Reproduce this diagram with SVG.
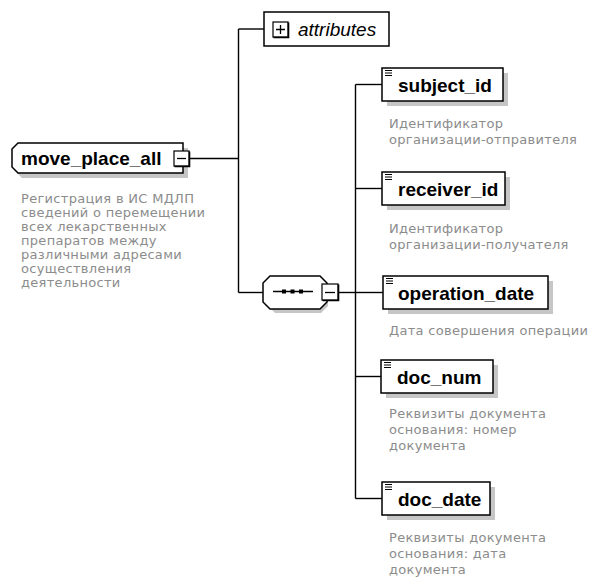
<svg xmlns="http://www.w3.org/2000/svg" width="593" height="581" viewBox="0 0 593 581">
<style>
.bg{fill:#fff}
.box{fill:#fff;stroke:#000;stroke-width:1.5}
.shadow{fill:#c6c6c6}
.name{font-family:"Liberation Sans",Arial,sans-serif;font-weight:bold;font-size:19px;fill:#000}
.attr{font-family:"Liberation Sans",Arial,sans-serif;font-style:italic;font-size:19px;fill:#000}
.desc{font-family:"DejaVu Sans",Verdana,sans-serif;font-size:13px;letter-spacing:0.3px;fill:#8c8c8c}
.conn{fill:none;stroke:#000;stroke-width:1.4}
.pm{fill:#fff;stroke:#000;stroke-width:1.2}
.pmline{fill:none;stroke:#000;stroke-width:1.3}
.thick{fill:none;stroke:#000;stroke-width:1.6}
.icon{stroke:#000;stroke-width:1}
</style>
<defs>
<g id="simpleIcon"><path class="icon" d="M0,0.5H7M0,3H7M0,5.5H7"/></g>
</defs>
<rect class="bg" width="593" height="581"/>

<g id="connectors">
<path class="conn" d="M189,158.5H238.5"/>
<path class="conn" d="M238.5,29V292.5"/>
<path class="conn" d="M238.5,29H264"/>
<path class="conn" d="M238.5,292.5H263"/>
<path class="conn" d="M339,292.5H356"/>
<path class="conn" d="M355.5,84.5V498.5"/>
<path class="conn" d="M355.5,84.5H382"/>
<path class="conn" d="M355.5,188.5H382"/>
<path class="conn" d="M355.5,292.5H383"/>
<path class="conn" d="M355.5,376.5H381"/>
<path class="conn" d="M355.5,498.5H382"/>
</g>

<g id="move_place_all">
<path class="shadow" d="M22,148H188V178H22L17,173V153Z"/>
<path class="box" d="M18,143H183V173H18L12,167V149Z"/>
<text class="name" x="21" y="165">move_place_all</text>
<rect class="pm" x="174" y="151" width="15" height="15"/>
<path class="thick" d="M189.5,151.5V166.5H174.5"/>
<path class="pmline" d="M177,158.5H186"/>
<text class="desc"><tspan x="21" y="203">Регистрация в ИС МДЛП</tspan><tspan x="21" y="217">сведений о перемещении</tspan><tspan x="21" y="231">всех лекарственных</tspan><tspan x="21" y="245">препаратов между</tspan><tspan x="21" y="259">различными адресами</tspan><tspan x="21" y="273">осуществления</tspan><tspan x="21" y="287">деятельности</tspan></text>
</g>

<g id="attributes">
<rect class="box" x="264" y="12" width="125" height="34"/>
<rect class="pm" x="273" y="22" width="15" height="15"/>
<path class="thick" d="M288.5,22.5V37.5H273.5"/>
<path class="pmline" d="M276,29.5H285M280.5,25V34"/>
<text class="attr" x="298" y="36">attributes</text>
</g>

<g id="sequence">
<path class="shadow" d="M275,281H321L328,288V306L321,313H275L268,306V288Z"/>
<path class="box" d="M270,276H320L327,283V302L320,309H270L263,302V283Z"/>
<path class="conn" d="M273,291.5H313"/>
<rect x="282" y="289.5" width="4" height="4" fill="#000"/>
<rect x="290.5" y="289.5" width="4" height="4" fill="#000"/>
<rect x="299" y="289.5" width="4" height="4" fill="#000"/>
<rect class="pm" x="322" y="284" width="16" height="16"/>
<path class="thick" d="M338.5,284.5V300.5H322.5"/>
<path class="pmline" d="M325,292.5H335"/>
</g>

<g id="subject_id">
<rect class="shadow" x="387" y="73" width="121" height="33"/>
<rect class="box" x="382" y="68" width="121" height="33"/>
<use href="#simpleIcon" x="385" y="70"/>
<text class="name" x="398" y="92">subject_id</text>
<text class="desc"><tspan x="389" y="128">Идентификатор</tspan><tspan x="389" y="144">организации-отправителя</tspan></text>
</g>

<g id="receiver_id">
<rect class="shadow" x="387" y="177" width="123" height="33"/>
<rect class="box" x="382" y="172" width="123" height="33"/>
<use href="#simpleIcon" x="385" y="174"/>
<text class="name" x="398" y="196">receiver_id</text>
<text class="desc"><tspan x="389" y="233">Идентификатор</tspan><tspan x="389" y="249">организации-получателя</tspan></text>
</g>

<g id="operation_date">
<rect class="shadow" x="388" y="281" width="165" height="33"/>
<rect class="box" x="383" y="276" width="165" height="33"/>
<use href="#simpleIcon" x="386" y="278"/>
<text class="name" x="398" y="300">operation_date</text>
<text class="desc"><tspan x="389" y="335">Дата совершения операции</tspan></text>
</g>

<g id="doc_num">
<rect class="shadow" x="386" y="365" width="112" height="33"/>
<rect class="box" x="381" y="360" width="112" height="33"/>
<use href="#simpleIcon" x="384" y="362"/>
<text class="name" x="397" y="384">doc_num</text>
<text class="desc"><tspan x="389" y="418">Реквизиты документа</tspan><tspan x="389" y="434">основания: номер</tspan><tspan x="389" y="450">документа</tspan></text>
</g>

<g id="doc_date">
<rect class="shadow" x="387" y="487" width="108" height="33"/>
<rect class="box" x="382" y="482" width="108" height="33"/>
<use href="#simpleIcon" x="385" y="484"/>
<text class="name" x="398" y="506">doc_date</text>
<text class="desc"><tspan x="389" y="542">Реквизиты документа</tspan><tspan x="389" y="558">основания: дата</tspan><tspan x="389" y="574">документа</tspan></text>
</g>
</svg>
